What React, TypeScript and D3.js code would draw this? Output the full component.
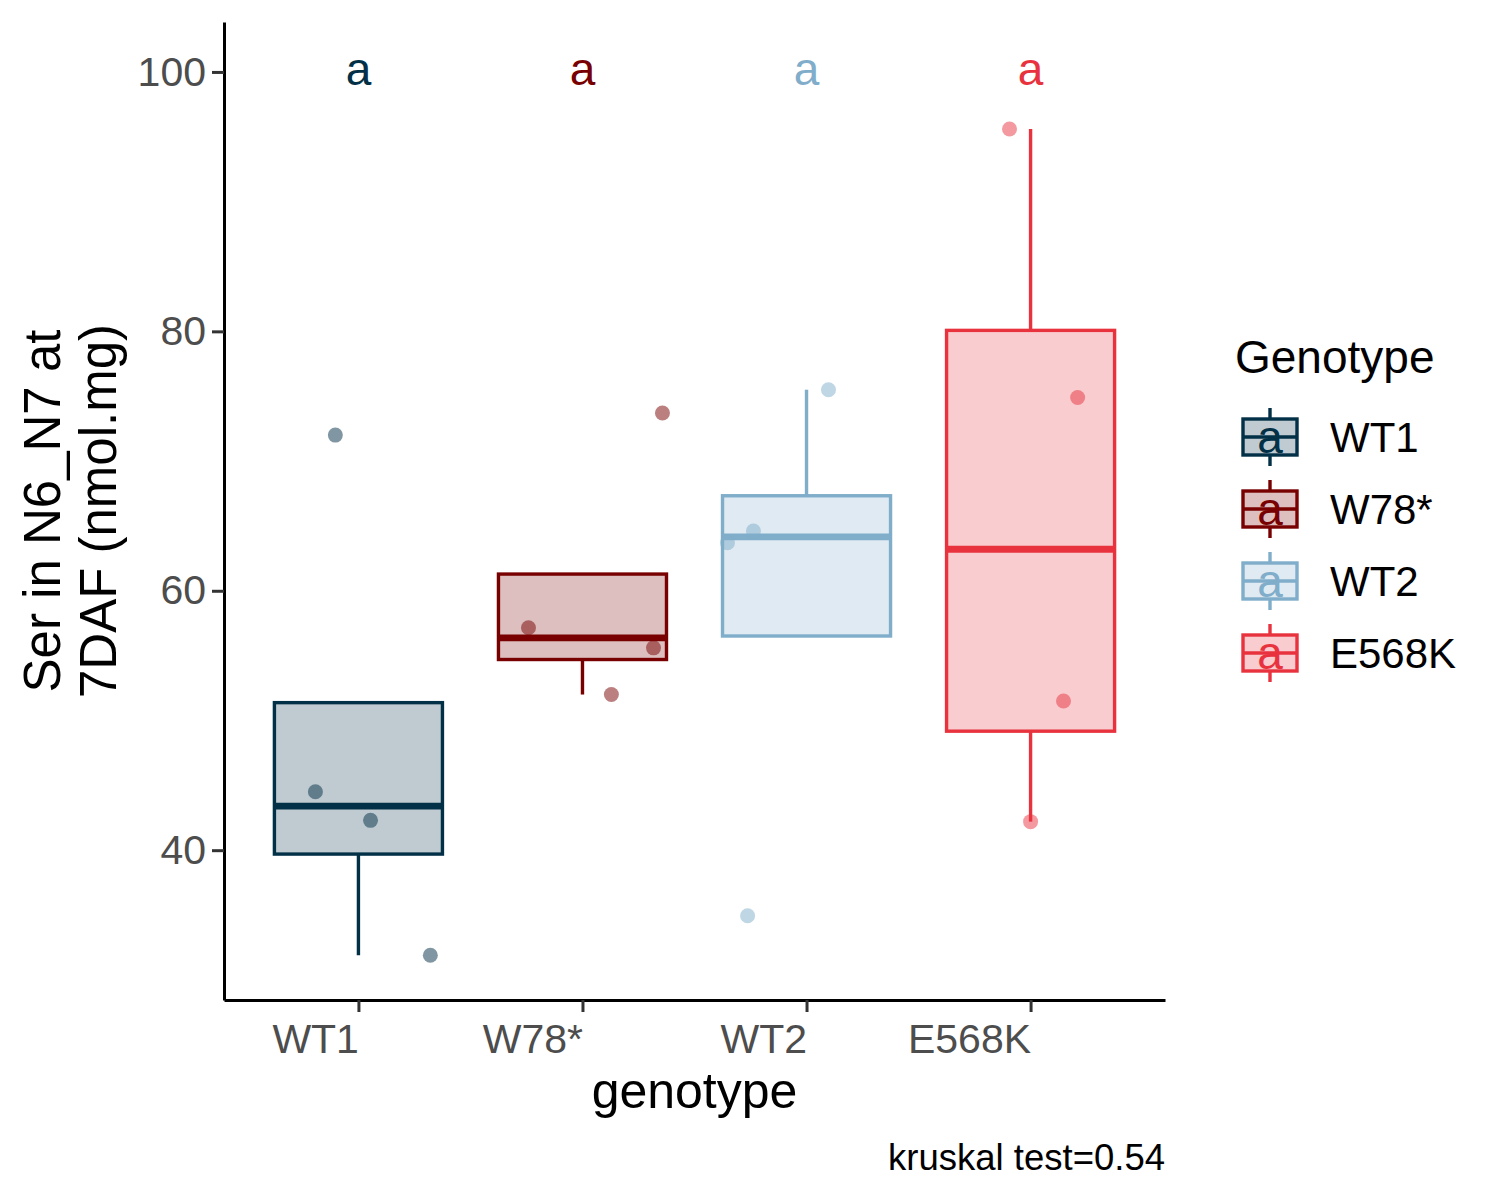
import React, { useEffect, useRef } from "react";
import * as d3 from "d3";

// groups, in axis order
const genotypes = ["WT1", "W78*", "WT2", "E568K"];
const genotypeColors = ["#023047", "#780000", "#7FADCA", "#E8333F"];
const letters = ["a", "a", "a", "a"];

const wt1Values = [72.0, 44.5, 42.3, 31.9];
const w78Values = [57.15, 55.6, 52.0, 73.7];
const wt2Values = [75.5, 64.6, 63.7, 34.95];
const e568kValues = [95.6, 74.9, 51.5, 42.2];
const groupValues = [wt1Values, w78Values, wt2Values, e568kValues];

// jitter offsets (fraction of a category step) for each point above
const wt1Jitter = [-0.103, -0.192, 0.054, 0.321];
const w78Jitter = [-0.241, 0.317, 0.129, 0.357];
const wt2Jitter = [0.098, -0.237, -0.353, -0.263];
const e568kJitter = [-0.094, 0.21, 0.147, 0.0];
const groupJitter = [wt1Jitter, w78Jitter, wt2Jitter, e568kJitter];

const yTicks = [40, 60, 80, 100];
const letterY = 100;
const caption = "kruskal test=0.54";

const W = 1500;
const H = 1200;
const margin = { left: 224, right: 335, top: 22, bottom: 200 };
const FONT = "'Liberation Sans', Arial, sans-serif";

interface BoxStats {
  q1: number;
  median: number;
  q3: number;
  lo: number;
  hi: number;
}

const boxStats = (values: number[]): BoxStats => {
  const s = values.slice().sort(d3.ascending);
  const q1 = d3.quantile(s, 0.25)!;
  const median = d3.quantile(s, 0.5)!;
  const q3 = d3.quantile(s, 0.75)!;
  const iqr = q3 - q1;
  const inside = s.filter((v) => v >= q1 - 1.5 * iqr && v <= q3 + 1.5 * iqr);
  return {
    q1,
    median,
    q3,
    lo: Math.min(d3.min(inside)!, q1),
    hi: Math.max(d3.max(inside)!, q3),
  };
};

const App = () => {
  const ref = useRef<SVGSVGElement>(null);

  useEffect(() => {
    const svg = d3.select(ref.current);
    svg.selectAll("*").remove();

    const plotW = W - margin.left - margin.right;
    const plotH = H - margin.top - margin.bottom;

    // ggplot-like discrete axis: 0.6 units of padding each side
    const x = d3
      .scaleLinear()
      .domain([0.4, genotypes.length + 0.6])
      .range([margin.left, margin.left + plotW]);
    const step = x(2) - x(1);

    const y = d3
      .scaleLinear()
      .domain([28.45, 103.85])
      .range([margin.top + plotH, margin.top]);

    const g = svg.append("g");

    // boxplots
    genotypes.forEach((name, i) => {
      const st = boxStats(groupValues[i]);
      const cx = x(i + 1);
      const half = step * 0.375;
      const color = genotypeColors[i];
      const box = g.append("g");

      box
        .append("line")
        .attr("x1", cx)
        .attr("x2", cx)
        .attr("y1", y(st.q3))
        .attr("y2", y(st.hi))
        .attr("stroke", color)
        .attr("stroke-width", 3.4);
      box
        .append("line")
        .attr("x1", cx)
        .attr("x2", cx)
        .attr("y1", y(st.q1))
        .attr("y2", y(st.lo))
        .attr("stroke", color)
        .attr("stroke-width", 3.4);
      box
        .append("rect")
        .attr("x", cx - half)
        .attr("width", half * 2)
        .attr("y", y(st.q3))
        .attr("height", y(st.q1) - y(st.q3))
        .attr("fill", color)
        .attr("fill-opacity", 0.25)
        .attr("stroke", color)
        .attr("stroke-width", 3.4);
      box
        .append("line")
        .attr("x1", cx - half)
        .attr("x2", cx + half)
        .attr("y1", y(st.median))
        .attr("y2", y(st.median))
        .attr("stroke", color)
        .attr("stroke-width", 6.8);
    });

    // jittered points
    genotypes.forEach((name, i) => {
      g.append("g")
        .selectAll("circle")
        .data(groupValues[i])
        .join("circle")
        .attr("cx", (d, j) => x(i + 1 + groupJitter[i][j]))
        .attr("cy", (d) => y(d))
        .attr("r", 7.5)
        .attr("fill", genotypeColors[i])
        .attr("fill-opacity", 0.5);
    });

    // significance letters
    g.append("g")
      .selectAll("text")
      .data(letters)
      .join("text")
      .attr("x", (d, i) => x(i + 1))
      .attr("y", y(letterY) + 13)
      .attr("text-anchor", "middle")
      .attr("font-family", FONT)
      .attr("font-size", 46)
      .attr("fill", (d, i) => genotypeColors[i])
      .text((d) => d);

    // y axis
    const yAxis = svg
      .append("g")
      .attr("transform", `translate(${margin.left},0)`)
      .call(
        d3
          .axisLeft(y)
          .tickValues(yTicks)
          .tickSize(12)
          .tickSizeOuter(0)
          .tickPadding(6)
      );
    yAxis.select(".domain").attr("stroke", "#000").attr("stroke-width", 3);
    yAxis.selectAll(".tick line").attr("stroke", "#333").attr("stroke-width", 3);
    yAxis
      .selectAll(".tick text")
      .attr("font-family", FONT)
      .attr("font-size", 41)
      .attr("fill", "#4D4D4D");

    // x axis
    const xAxis = svg
      .append("g")
      .attr("transform", `translate(0,${margin.top + plotH})`)
      .call(
        d3
          .axisBottom(x)
          .tickValues(genotypes.map((_, i) => i + 1))
          .tickFormat((d) => genotypes[(d as number) - 1])
          .tickSize(12)
          .tickSizeOuter(0)
          .tickPadding(8)
      );
    xAxis.select(".domain").attr("stroke", "#000").attr("stroke-width", 3);
    xAxis.selectAll(".tick line").attr("stroke", "#333").attr("stroke-width", 3);
    xAxis
      .selectAll(".tick text")
      .attr("font-family", FONT)
      .attr("font-size", 41)
      .attr("fill", "#4D4D4D")
      .attr("text-anchor", "end")
      .attr("dy", "0.8em");

    // axis titles
    svg
      .append("text")
      .attr("x", margin.left + plotW / 2)
      .attr("y", 1108)
      .attr("text-anchor", "middle")
      .attr("font-family", FONT)
      .attr("font-size", 50)
      .attr("fill", "#000")
      .text("genotype");

    const yTitle = svg
      .append("text")
      .attr("transform", `translate(0,${margin.top + plotH / 2}) rotate(-90)`)
      .attr("text-anchor", "middle")
      .attr("font-family", FONT)
      .attr("font-size", 51)
      .attr("fill", "#000");
    yTitle.append("tspan").attr("x", 0).attr("y", 60).text("Ser in N6_N7 at");
    yTitle.append("tspan").attr("x", 0).attr("y", 116).text("7DAF (nmol.mg)");

    // caption
    svg
      .append("text")
      .attr("x", margin.left + plotW)
      .attr("y", 1170)
      .attr("text-anchor", "end")
      .attr("font-family", FONT)
      .attr("font-size", 36.5)
      .attr("fill", "#000")
      .text(caption);

    // legend
    const legend = svg.append("g").attr("transform", "translate(1235,0)");
    legend
      .append("text")
      .attr("x", 0)
      .attr("y", 373)
      .attr("font-family", FONT)
      .attr("font-size", 46)
      .attr("fill", "#000")
      .text("Genotype");

    genotypes.forEach((name, i) => {
      const cy = 437 + i * 72;
      const color = genotypeColors[i];
      const key = legend.append("g");
      key
        .append("line")
        .attr("x1", 35)
        .attr("x2", 35)
        .attr("y1", cy - 29)
        .attr("y2", cy + 29)
        .attr("stroke", color)
        .attr("stroke-width", 3.4);
      key
        .append("rect")
        .attr("x", 8)
        .attr("y", cy - 18)
        .attr("width", 54)
        .attr("height", 36)
        .attr("fill", "#fff")
        .attr("stroke", "none");
      key
        .append("rect")
        .attr("x", 8)
        .attr("y", cy - 18)
        .attr("width", 54)
        .attr("height", 36)
        .attr("fill", color)
        .attr("fill-opacity", 0.25)
        .attr("stroke", color)
        .attr("stroke-width", 3.4);
      key
        .append("line")
        .attr("x1", 8)
        .attr("x2", 62)
        .attr("y1", cy)
        .attr("y2", cy)
        .attr("stroke", color)
        .attr("stroke-width", 3.4);
      key
        .append("text")
        .attr("x", 35)
        .attr("y", cy + 16)
        .attr("text-anchor", "middle")
        .attr("font-family", FONT)
        .attr("font-size", 46)
        .attr("fill", color)
        .text(letters[i]);
      key
        .append("text")
        .attr("x", 95)
        .attr("y", cy)
        .attr("dy", "0.36em")
        .attr("font-family", FONT)
        .attr("font-size", 42)
        .attr("fill", "#000")
        .text(name);
    });
  }, []);

  return (
    <svg
      ref={ref}
      width={W}
      height={H}
      style={{ position: "absolute", left: 0, top: 0, background: "#fff" }}
    />
  );
};

export default App;
